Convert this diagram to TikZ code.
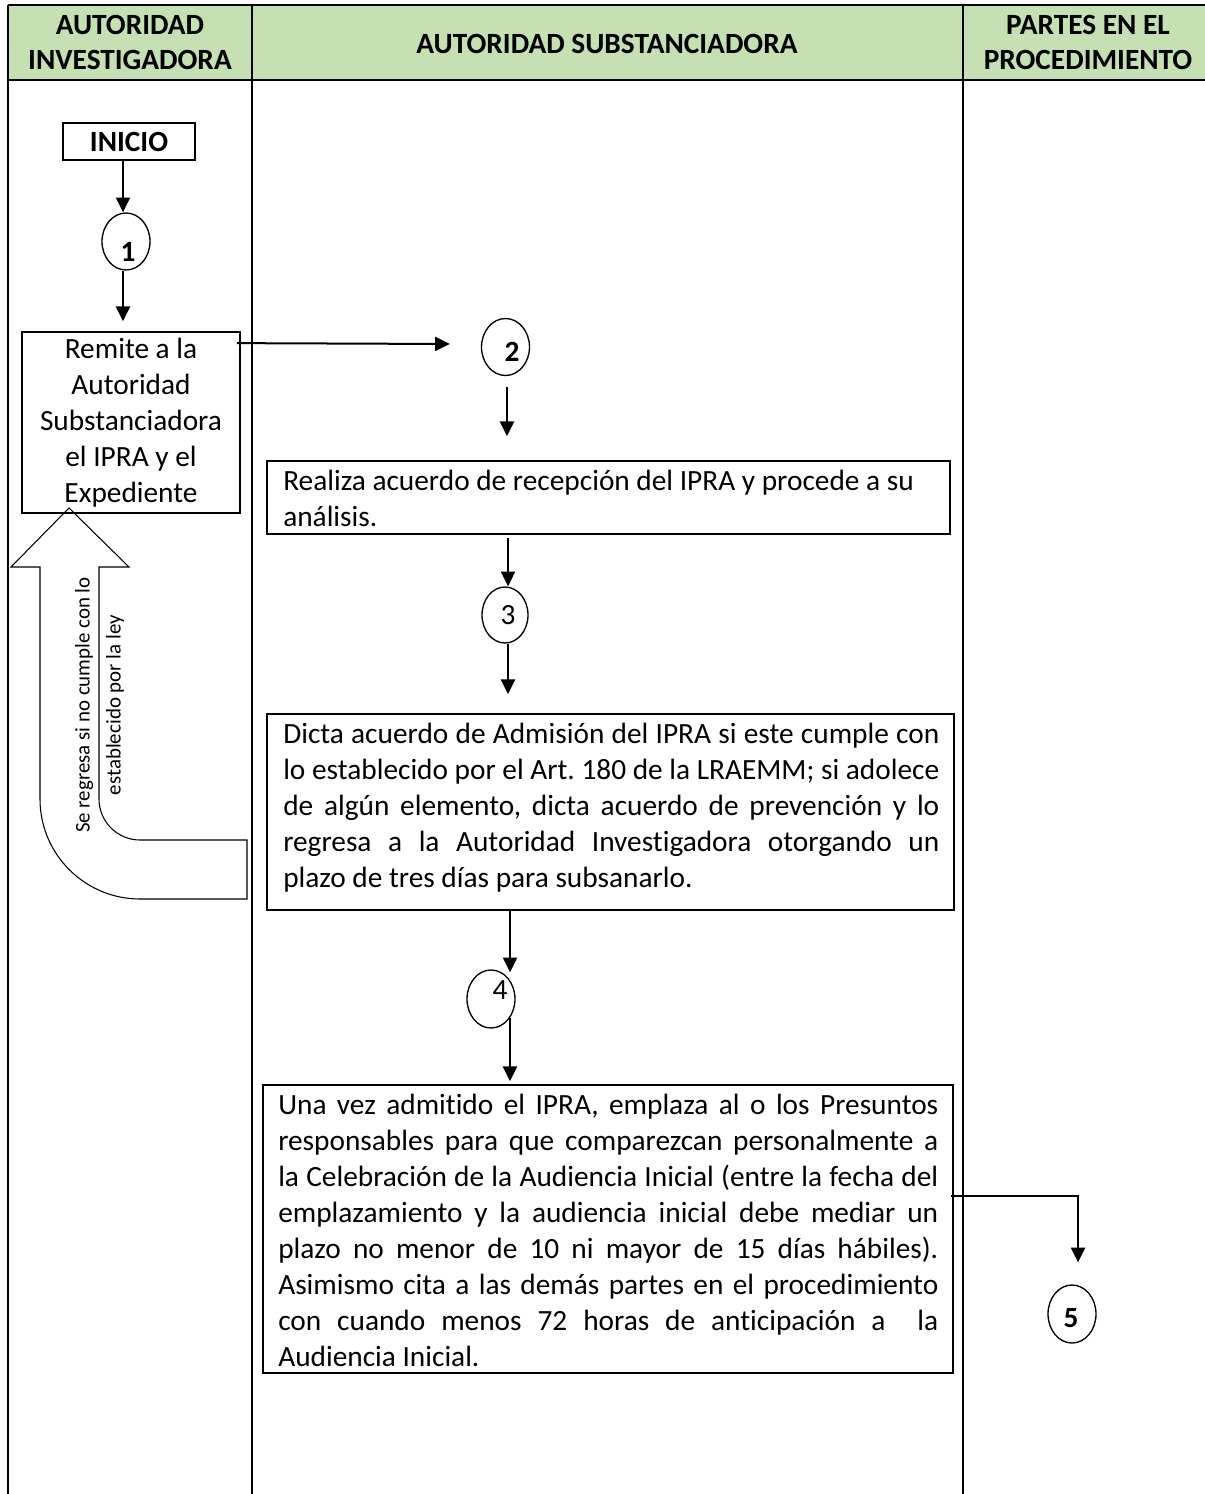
\documentclass[tikz,border=0pt]{standalone}
\usepackage{fontspec}
\setmainfont{Carlito}[Ligatures=NoCommon]
\usetikzlibrary{arrows.meta,shapes.geometric,calc}
\newlength{\pxu}\setlength{\pxu}{0.75pt}
\definecolor{hdrgreen}{HTML}{C5E0B3}
% one justified line of a given width (in px units)
\newcommand{\jline}[2]{\makebox[#1\pxu][s]{#2}}
\begin{document}
\frenchspacing
\begin{tikzpicture}[x=0.75pt,y=-0.75pt,
  body/.style={font=\fontsize{22}{27}\selectfont\frenchspacing},
  head/.style={font=\bfseries\fontsize{22}{26.25}\selectfont, align=center, inner sep=0pt},
  box/.style={draw, line width=1.3pt, rectangle, inner sep=0pt},
  stepcirc/.style={draw, ellipse, line width=1pt, inner sep=0pt,
                   minimum width=48\pxu, minimum height=57\pxu},
  num/.style={font=\fontsize{22}{27}\selectfont, inner sep=0pt},
  arr/.style={line width=1.5pt, -{Triangle[length=11pt,width=10.5pt]}},
  para/.style={body, anchor=base west, inner sep=0pt, align=flush left},
]
\useasboundingbox (0,0) rectangle (1205,1494);

% header band
\fill[hdrgreen] (8,5) rectangle (1205,80);
\draw[line width=2.2pt] (8,5) -- (1205,5) (8,80) -- (1205,80)
  (8,5) -- (8,80) (252,5) -- (252,80) (963,5) -- (963,80);
\node[head] (h1) at (130,42.5) {AUTORIDAD\\INVESTIGADORA};
\node[head] (h2) at (607,44) {AUTORIDAD SUBSTANCIADORA};
\node[head] (h3) at (1088,42.5) {PARTES EN EL\\PROCEDIMIENTO};

% lane separators
\draw[line width=1.5pt] (8,80) -- (8,1494) (252,80) -- (252,1494) (963,80) -- (963,1494);

% return block arrow
\draw[line width=0.8pt] (69,508) -- (129,567) -- (99,567) -- (99,799)
  .. controls (99,821.6) and (117.4,840) .. (140,840) -- (247,840) -- (247,899)
  -- (140,899) .. controls (84.8,899) and (40,854.2) .. (40,799)
  -- (40,567) -- (11,567) -- cycle;
\node[rotate=90, align=center, inner sep=0pt, font=\fontsize{15.7}{23.25}\selectfont]
  (note) at (99.5,705) {Se regresa si no cumple con lo\\establecido por la ley};

% boxes
\node[box, body, minimum width=132\pxu, minimum height=37\pxu] (inicio) at (129,141.5) {\bfseries INICIO};
\node[box, body, align=center, minimum width=218\pxu, minimum height=181\pxu] (remite) at (131,422.5)
  {Remite a la\\Autoridad\\Substanciadora\\el IPRA y el\\Expediente};
\node[box, minimum width=683\pxu, minimum height=73\pxu] (realiza) at (608.5,497.5) {};
\node[para, text width=660\pxu] (realizat) at (283,490.5)
  {Realiza acuerdo de recepción del IPRA y procede a su\\análisis.};
\node[box, minimum width=687\pxu, minimum height=196\pxu] (dicta) at (610.5,812) {};
\node[para, text width=660\pxu] (dictat) at (283,743.5)
  {\jline{656}{Dicta acuerdo de Admisión del IPRA si este cumple con}\\
   \jline{656}{lo establecido por el Art. 180 de la LRAEMM; si adolece}\\
   \jline{656}{de algún elemento, dicta acuerdo de prevención y lo}\\
   \jline{656}{regresa a la Autoridad Investigadora otorgando un}\\
   plazo de tres días para subsanarlo.};
\node[box, minimum width=690\pxu, minimum height=288\pxu] (una) at (608,1229) {};
\node[para, text width=664\pxu] (unat) at (278,1114.5)
  {\jline{660}{Una vez admitido el IPRA, emplaza al o los Presuntos}\\
   \jline{660}{responsables para que comparezcan personalmente a}\\
   \jline{660}{la Celebración de la Audiencia Inicial (entre la fecha del}\\
   \jline{660}{emplazamiento y la audiencia inicial debe mediar un}\\
   \jline{660}{plazo no menor de 10 ni mayor de 15 días hábiles).}\\
   \jline{660}{Asimismo cita a las demás partes en el procedimiento}\\
   \jline{660}{con cuando menos 72 horas de anticipación a \ la}\\
   Audiencia Inicial.};

% numbered connectors
\node[stepcirc] (c1) at (126,241.5) {};
\node[num] (n1) at (128,252) {\bfseries 1};
\node[stepcirc] (c2) at (505.5,347) {};
\node[num] (n2) at (512,352) {\bfseries 2};
\node[stepcirc, minimum width=46\pxu, minimum height=56\pxu] (c3) at (505,615) {};
\node[num] (n3) at (508,615) {3};
\node[stepcirc, minimum height=58\pxu] (c4) at (491,999) {};
\node[num] (n4) at (500,990) {4};
\node[stepcirc, minimum height=58\pxu] (c5) at (1072,1314) {};
\node[num] (n5) at (1071,1318) {\bfseries 5};

% flow
\draw[arr] ($(inicio.south)+(-6,0)$) -- ($(c1.north)+(-3,0)$);
\draw[arr] ($(c1.south)+(-3,0)$) -- ($(remite.north)+(-8,-10)$);
\draw[arr] ($(remite.north east)+(-4,12)$) -- ($(c2.west)+(-31,-3)$);
\draw[arr] ($(c2.south)+(1.5,11)$) -- ($(realiza.north)+(-101.5,-24)$);
\draw[arr] ($(realiza.south)+(-100.5,3)$) -- ($(c3.north)+(3,0)$);
\draw[arr] ($(c3.south)+(3,0)$) -- ($(dicta.north)+(-102.5,-19)$);
\draw[arr] ($(dicta.south)+(-100.5,0)$) -- ($(c4.north)+(19,3)$);
\draw[arr] ($(c4.south)+(19,-11)$) -- ($(una.north)+(-98,-3)$);
\draw[arr] ($(una.north east)+(-3,112)$) -| ($(c5.north)+(6,-22)$);
\end{tikzpicture}
\end{document}
